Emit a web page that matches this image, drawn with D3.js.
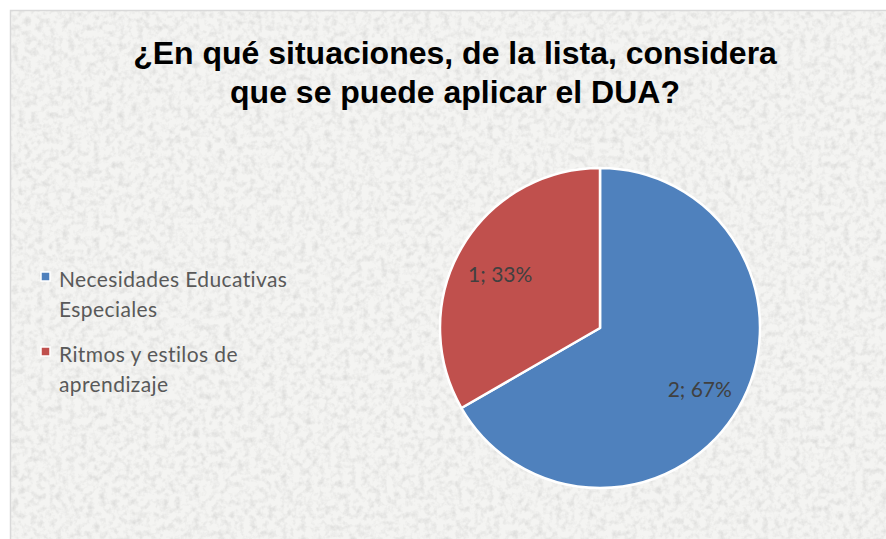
<!DOCTYPE html>
<html>
<head>
<meta charset="utf-8">
<script src="https://cdn.jsdelivr.net/npm/d3@7"></script>
<style>
  body { margin: 0; background: #fff; }
  svg { display: block; }
</style>
</head>
<body>
<div id="app"></div>
<script>
// datos
const categories = ['Necesidades Educativas Especiales', 'Ritmos y estilos de aprendizaje'];
const legendLines = [['Necesidades Educativas', 'Especiales'], ['Ritmos y estilos de', 'aprendizaje']];
const values = [2, 1];
const colors = ['#4f81bd', '#c0504d'];
const titleLines = ['¿En qué situaciones, de la lista, considera', 'que se puede aplicar el DUA?'];

const width = 886, height = 539;

const svg = d3.select('#app').append('svg')
  .attr('width', width)
  .attr('height', height);

// textura de granito
const defs = svg.append('defs');
const filter = defs.append('filter').attr('id', 'granite')
  .attr('x', 0).attr('y', 0).attr('width', '100%').attr('height', '100%');
filter.append('feTurbulence')
  .attr('type', 'fractalNoise')
  .attr('baseFrequency', 0.16)
  .attr('numOctaves', 3)
  .attr('seed', 4)
  .attr('result', 'noise');
filter.append('feColorMatrix')
  .attr('in', 'noise')
  .attr('type', 'matrix')
  .attr('values', '0 0 0 0 0.62  0 0 0 0 0.62  0 0 0 0 0.61  1.3 0 0 0 -0.55')
  .attr('result', 'speck');
filter.append('feComposite').attr('in', 'speck').attr('in2', 'SourceGraphic').attr('operator', 'in');

svg.append('rect')
  .attr('x', 10).attr('y', 10)
  .attr('width', width).attr('height', height)
  .attr('fill', '#f4f4f2');
svg.append('rect')
  .attr('x', 10).attr('y', 10)
  .attr('width', width).attr('height', height)
  .attr('fill', '#fff')
  .attr('filter', 'url(#granite)');
svg.append('rect')
  .attr('x', 10.5).attr('y', 10.5)
  .attr('width', width).attr('height', height)
  .attr('fill', 'none')
  .attr('stroke', '#d9d9d9')
  .attr('stroke-width', 1.5);

// titulo
svg.append('g').selectAll('text')
  .data(titleLines)
  .join('text')
  .attr('x', 455)
  .attr('y', (d, i) => 64 + i * 39)
  .attr('text-anchor', 'middle')
  .attr('font-family', '"Liberation Sans", Arial, sans-serif')
  .attr('font-weight', 'bold')
  .attr('font-size', '32px')
  .attr('fill', '#000')
  .text(d => d);

// pastel
const cx = 600, cy = 328, r = 160;
const pie = d3.pie().sort(null).value(d => d);
const arcs = pie(values);
const arc = d3.arc().innerRadius(0).outerRadius(r);
const labelArc = d3.arc().innerRadius(r * 0.72).outerRadius(r * 0.72);
const total = d3.sum(values);

const pieG = svg.append('g').attr('transform', `translate(${cx},${cy})`);
pieG.selectAll('path')
  .data(arcs)
  .join('path')
  .attr('d', arc)
  .attr('fill', (d, i) => colors[i])
  .attr('stroke', '#fff')
  .attr('stroke-width', 2.5)
  .attr('stroke-linejoin', 'round');

pieG.selectAll('text')
  .data(arcs)
  .join('text')
  .attr('transform', d => {
    const [x, y] = labelArc.centroid(d);
    return `translate(${x},${y})`;
  })
  .attr('text-anchor', 'middle')
  .attr('dy', '0.55em')
  .attr('font-family', 'Lato, "Open Sans", sans-serif')
  .attr('font-size', '21px')
  .attr('fill', '#404040')
  .text(d => `${d.data}; ${Math.round(d.data / total * 100)}%`);

// leyenda
const legend = svg.append('g');
const item = legend.selectAll('g')
  .data(categories)
  .join('g')
  .attr('transform', (d, i) => `translate(41,${272 + i * 75})`);
item.append('rect')
  .attr('x', 0).attr('y', 0)
  .attr('width', 9).attr('height', 9)
  .attr('fill', (d, i) => colors[i])
  .attr('stroke', '#fff')
  .attr('stroke-width', 1.5);
item.append('text')
  .attr('font-family', 'Lato, "Open Sans", sans-serif')
  .attr('font-size', '21px')
  .attr('letter-spacing', '0.4px')
  .attr('fill', '#595959')
  .selectAll('tspan')
  .data((d, i) => legendLines[i])
  .join('tspan')
  .attr('x', 18)
  .attr('y', (d, j) => 15 + j * 30)
  .text(d => d);
</script>
</body>
</html>
